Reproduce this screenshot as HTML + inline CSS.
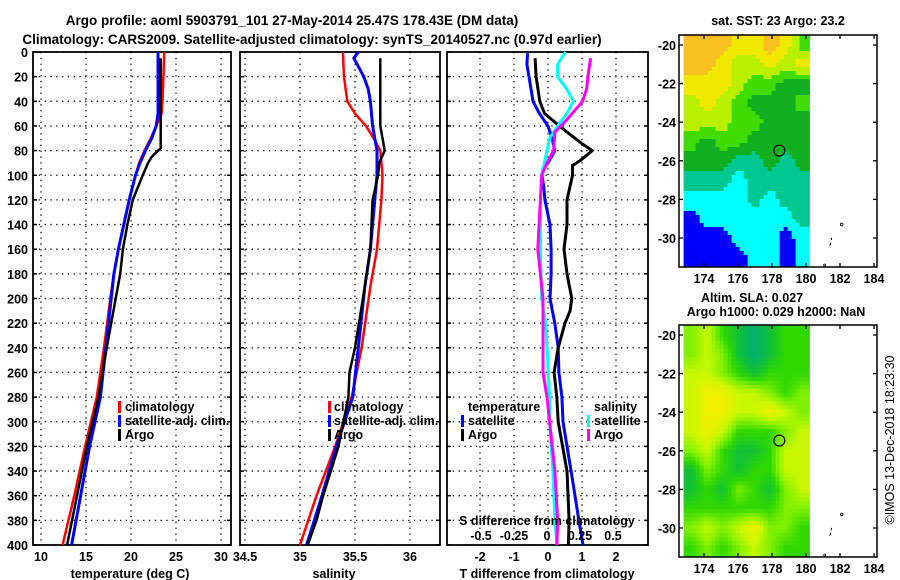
<!DOCTYPE html>
<html><head><meta charset="utf-8">
<style>
html,body{margin:0;padding:0;background:#fff;}
svg{display:block;font-family:"Liberation Sans",sans-serif;font-weight:bold;}
text{font-size:12.5px;fill:#000;}
</style></head>
<body>
<svg id="fig" width="900" height="580" viewBox="0 0 900 580" xmlns="http://www.w3.org/2000/svg">
<text x="292" y="25" text-anchor="middle" style="font-size:13.5px">Argo profile: aoml 5903791_101 27-May-2014 25.47S 178.43E (DM data)</text>
<text x="312" y="44" text-anchor="middle" style="font-size:13.5px">Climatology: CARS2009. Satellite-adjusted climatology: synTS_20140527.nc (0.97d earlier)</text>
<g id="layer"></g>
</svg>
<script>
// ---- data ----
const depthTicks=[0,20,40,60,80,100,120,140,160,180,200,220,240,260,280,300,320,340,360,380,400];
const tempTicks=[10,15,20,25,30];
const salTicks=[34.5,35,35.5,36];
const tdiffTicks=[-2,-1,0,1,2];
const sdiffTicks=[-0.5,-0.25,0,0.25,0.5];
const tClimDepth=[0,20,40,50,60,70,80,90,100,120,140,160,180,200,240,280,320,360,400];
const tClimVal=[23.7,23.6,23.5,23.4,22.8,22.2,21.5,20.9,20.5,19.8,19.2,18.6,18.1,17.7,17.0,16.2,14.9,13.7,12.4];
const tSatDepth=[0,20,40,50,60,70,80,90,100,120,140,160,180,200,240,280,320,360,400];
const tSatVal=[23.0,23.0,23.0,23.0,22.8,22.3,21.6,21.0,20.5,19.8,19.2,18.6,18.1,17.8,17.2,16.6,15.4,14.4,13.4];
const tArgoDepth=[5,20,40,60,78,85,90,100,120,140,160,180,200,240,280,320,360,400];
const tArgoVal=[23.3,23.3,23.3,23.3,23.3,22.3,21.9,21.3,20.2,19.6,19.1,18.8,18.3,17.3,16.4,15.1,14.0,12.9];
const sClimDepth=[0,20,40,50,60,70,80,100,120,160,190,240,280,320,360,400];
const sClimVal=[35.39,35.40,35.43,35.50,35.60,35.67,35.73,35.75,35.74,35.70,35.64,35.56,35.47,35.32,35.15,35.0];
const sSatDepth=[0,5,20,30,40,60,80,100,120,160,190,240,280,320,360,400];
const sSatVal=[35.53,35.49,35.58,35.62,35.64,35.66,35.70,35.70,35.68,35.64,35.59,35.53,35.48,35.33,35.2,35.06];
const sArgoDepth=[5,60,75,80,90,100,120,160,190,240,260,280,320,360,380,400];
const sArgoVal=[35.73,35.73,35.76,35.77,35.72,35.71,35.66,35.64,35.59,35.50,35.45,35.44,35.35,35.21,35.15,35.07];
const dTSatDepth=[1,10,20,30,40,50,60,70,80,90,95,100,110,120,140,160,180,200,220,240,260,280,300,340,380,400];
const dTSatVal=[-0.6,-0.62,-0.56,-0.5,-0.44,-0.25,0,0.12,0.2,0.0,-0.15,-0.18,-0.12,-0.09,0.06,0.09,0.09,0.06,0.2,0.3,0.32,0.41,0.44,0.68,0.91,1.03];
const dTArgoDepth=[5,20,40,50,55,65,75,80,88,92,100,120,140,160,180,200,210,220,240,260,280,300,340,380,400];
const dTArgoVal=[-0.38,-0.35,-0.24,-0.1,0.12,0.56,1.03,1.3,0.95,0.72,0.72,0.56,0.56,0.47,0.56,0.7,0.65,0.5,0.3,0.18,0.26,0.3,0.56,0.62,0.6];
const dSSatDepth=[0,10,20,30,40,50,60,70,80,100,120,160,200,220,240,260,280,300,340,380,400];
const dSSatVal=[0.14,0.08,0.08,0.15,0.2,0.15,0.08,0.02,0.0,-0.04,-0.05,-0.05,-0.04,-0.01,0.0,0.01,0.02,0.02,0.045,0.06,0.075];
const dSArgoDepth=[5,20,30,40,55,65,80,90,100,120,160,200,240,260,280,300,340,380,400];
const dSArgoVal=[0.33,0.31,0.3,0.27,0.15,0.06,0.05,0.0,-0.04,-0.05,-0.07,-0.03,-0.03,-0.03,0.0,0.02,0.06,0.08,0.075];
const latTicks=[-20,-22,-24,-26,-28,-30];
const lonTicks=[174,176,178,180,182,184];
const sstRows=["77766764","77655656","66654433","56543334","55544333","43443333","33322323","22212222","11112122","01111112","00011101","00001101"];
const slaRows=["34210122","34310122","44321222","45544323","45544543","45422234","34211244","13212244","12132134","22222233","34345332","23234322"];
const sstColors=["#0000ff","#00ffff","#00c890","#10b020","#40dc00","#b8f000","#f0e800","#f8c020"];
const slaColors=["#00b070","#10c038","#30d800","#80f000","#c8f800","#f0f000"];
const argoLon=178.43, argoLat=-25.47;

// ---- helpers ----
const NS="http://www.w3.org/2000/svg";
const layer=document.getElementById('layer');
function mk(tag,attrs,parent){const e=document.createElementNS(NS,tag);for(const k in attrs)e.setAttribute(k,attrs[k]);(parent||layer).appendChild(e);return e;}
const Y0=52,Y1=545;
const yD=d=>Y0+(Y1-Y0)*d/400;
const xT=v=>41+(v-10)*9;
const xS=v=>245+(v-34.5)*110;
const xDT=v=>548+v*34;
const xDS=v=>547+v*132;

function panel(name,x0,x1,xticks,xf,labels){
  const g=mk('g',{});
  
  
  depthTicks.forEach(d=>{
    const l=mk('line',{x1:x0,x2:x1,y1:yD(d),y2:yD(d),stroke:'#000','stroke-width':1.3,'stroke-dasharray':'1.3 4.5'},g);
    
    
    mk('line',{x1:x0,x2:x0+4,y1:yD(d),y2:yD(d),stroke:'#000','stroke-width':1.5},g);
    mk('line',{x1:x1-4,x2:x1,y1:yD(d),y2:yD(d),stroke:'#000','stroke-width':1.5},g);
  });
  xticks.forEach(v=>{
    const l=mk('line',{x1:xf(v),x2:xf(v),y1:Y0,y2:Y1,stroke:'#000','stroke-width':1.3,'stroke-dasharray':'1.3 4.5'},g);
    
    
    if(labels){
      const t=mk('text',{x:xf(v),y:561,'text-anchor':'middle'},g);
      t.textContent=String(v);
      
      
    }
  });
  const r=mk('rect',{x:x0,y:Y0,width:x1-x0,height:Y1-Y0,fill:'none',stroke:'#000','stroke-width':1.8},g);
  
  
  return g;
}
function line(g,name,ds,vs,xf,color,w){
  const p=ds.map((d,i)=>xf(vs[i]).toFixed(1)+','+yD(d).toFixed(1)).join(' ');
  const e=mk('polyline',{points:p,fill:'none',stroke:color,'stroke-width':w,'stroke-linejoin':'miter'},g);
  
  
}
function txt(g,name,x,y,s,anchor,size){
  const t=mk('text',{x:x,y:y,'text-anchor':anchor||'start'},g);
  if(size)t.style.fontSize=size+'px';
  t.textContent=s;
  
  
  return t;
}
function legendMark(g,x,y,color){
  const m=mk('rect',{x:x,y:y-10,width:3,height:12,fill:color},g);
  
  
}

depthTicks.forEach(d=>{ txt(layer,'depth-tick-label',28,yD(d)+5,String(d),'end'); });

const p1=panel('temperature-panel',33,231,tempTicks,xT,true);
line(p1,'temp-climatology-line',tClimDepth,tClimVal,xT,'#ff0000',2.5);
line(p1,'temp-satellite-line',tSatDepth,tSatVal,xT,'#0000ff',3);
line(p1,'temp-argo-line',tArgoDepth,tArgoVal,xT,'#000',2.5);
txt(p1,'temp-x-axis-title',130,578,'temperature (deg C)','middle');
[['climatology','#ff0000'],['satellite-adj. clim.','#0000ff'],['Argo','#000']].forEach((e,i)=>{
  legendMark(p1,118,411+i*14,e[1]);txt(p1,'legend-entry',125,411+i*14,e[0]);
});

const p2=panel('salinity-panel',240,440,salTicks,xS,true);
line(p2,'sal-climatology-line',sClimDepth,sClimVal,xS,'#ff0000',2.5);
line(p2,'sal-satellite-line',sSatDepth,sSatVal,xS,'#0000ff',3);
line(p2,'sal-argo-line',sArgoDepth,sArgoVal,xS,'#000',2.5);
txt(p2,'sal-x-axis-title',334,578,'salinity','middle');
[['climatology','#ff0000'],['satellite-adj. clim.','#0000ff'],['Argo','#000']].forEach((e,i)=>{
  legendMark(p2,328,411+i*14,e[1]);txt(p2,'legend-entry',334,411+i*14,e[0]);
});

const p3=panel('difference-panel',447,648,tdiffTicks,xDT,true);
line(p3,'tdiff-satellite-line',dTSatDepth,dTSatVal,xDT,'#0000ff',3);
line(p3,'tdiff-argo-line',dTArgoDepth,dTArgoVal,xDT,'#000',3);
line(p3,'sdiff-satellite-line',dSSatDepth,dSSatVal,xDS,'#00ffff',3);
line(p3,'sdiff-argo-line',dSArgoDepth,dSArgoVal,xDS,'#ff00ff',3);
txt(p3,'tdiff-x-axis-title',547,578,'T difference from climatology','middle');
txt(p3,'sdiff-axis-title',547,525,'S difference from climatology','middle');
sdiffTicks.forEach(v=>txt(p3,'sdiff-tick-label',xDS(v),540,String(v),'middle'));
txt(p3,'legend-heading-temperature',468,411,'temperature');
legendMark(p3,461,425,'#0000ff');txt(p3,'legend-entry',468,425,'satellite');
legendMark(p3,461,439,'#000');txt(p3,'legend-entry',468,439,'Argo');
txt(p3,'legend-heading-salinity',594,411,'salinity');
legendMark(p3,587,425,'#00ffff');txt(p3,'legend-entry',594,425,'satellite');
legendMark(p3,587,439,'#ff00ff');txt(p3,'legend-entry',594,439,'Argo');

function hexToRgb(h){return [parseInt(h.substr(1,2),16),parseInt(h.substr(3,2),16),parseInt(h.substr(5,2),16)];}
function sampleGrid(rows,fr,fc){
  const R=rows.length,C=rows[0].length;
  const r=Math.min(Math.max(fr,0),R-1),c=Math.min(Math.max(fc,0),C-1);
  const r0=Math.floor(r),c0=Math.floor(c),r1=Math.min(r0+1,R-1),c1=Math.min(c0+1,C-1);
  const a=r-r0,b=c-c0;
  const v=(i,j)=>+rows[i][j];
  return v(r0,c0)*(1-a)*(1-b)+v(r0,c1)*(1-a)*b+v(r1,c0)*a*(1-b)+v(r1,c1)*a*b;
}
function map(name,top,rows,colors,titles,smooth){
  const g=mk('g',{});
  
  
  const bx0=679,bx1=877,by0=top,by1=top+232;
  const xL=lon=>704+(lon-174)*17;
  const yL=lat=>by0+10+(-20-lat)*19.3;
  const mx0=xL(172.8),mx1=xL(180.2);
  const step=4;
  const cols=rows[0].length;
  for(let y=by0;y<by1;y+=step){
    for(let x=mx0;x<mx1;x+=step){
      const lon=172.8+(x+step/2-mx0)/17, lat=-20-((y+step/2)-by0-10)/19.3;
      const fc=(lon-172.8)/(7.4/cols)-0.5, fr=(-19.5-lat)-0.5;
      let v=sampleGrid(rows,fr,fc);
      let col;
      if(smooth){
        const i=Math.min(Math.floor(v),colors.length-2),f=v-i;
        const A=hexToRgb(colors[i]),B=hexToRgb(colors[i+1]);
        col='rgb('+A.map((q,k)=>Math.round(q+(B[k]-q)*f)).join(',')+')';
      } else {
        col=colors[Math.round(v)];
      }
      const w=Math.min(step,mx1-x)+0.5,h=Math.min(step,by1-y)+0.5;
      const cell=mk('rect',{x:x.toFixed(1),y:y,width:w.toFixed(1),height:h,fill:col},g);
      
      
    }
  }
  const frame=mk('rect',{x:bx0,y:by0,width:bx1-bx0,height:by1-by0,fill:'none',stroke:'#000','stroke-width':1.5},g);
  
  
  latTicks.forEach(l=>{
    mk('line',{x1:bx0,x2:bx0+4,y1:yL(l),y2:yL(l),stroke:'#000','stroke-width':1.3},g);
    mk('line',{x1:bx1-4,x2:bx1,y1:yL(l),y2:yL(l),stroke:'#000','stroke-width':1.3},g);
    txt(g,'map-lat-label',676,yL(l)+5,String(l),'end');
  });
  lonTicks.forEach(l=>{
    mk('line',{x1:xL(l),x2:xL(l),y1:by1-4,y2:by1,stroke:'#000','stroke-width':1.3},g);
    mk('line',{x1:xL(l),x2:xL(l),y1:by0,y2:by0+4,stroke:'#000','stroke-width':1.3},g);
    txt(g,'map-lon-label',xL(l),by1+16,String(l),'middle');
  });
  const c=mk('circle',{cx:xL(argoLon),cy:yL(argoLat),r:5.5,fill:'none',stroke:'#000','stroke-width':1.2},g);
  
  
  mk('circle',{cx:xL(182.1),cy:yL(-29.3),r:1.3,fill:'none',stroke:'#000','stroke-width':0.8},g);
  mk('path',{d:`M${xL(181.4)} ${yL(-30.4)} l1 -3 M${xL(181.5)} ${yL(-30.1)} l0 -2`,stroke:'#000','stroke-width':1},g);
  mk('circle',{cx:xL(181.1),cy:yL(-31.4),r:1,fill:'none',stroke:'#000','stroke-width':0.8},g);
  titles.forEach(t=>txt(g,'map-title',t[1],t[2],t[0],'middle'));
}
map('sst-map',35,sstRows,sstColors,[['sat. SST: 23 Argo: 23.2',778,25]],false);
map('sla-map',325,slaRows,slaColors,[['Altim. SLA: 0.027',752,302],['Argo h1000: 0.029 h2000: NaN',776,316]],true);

const cr=txt(layer,'copyright-note',0,0,'©IMOS 13-Dec-2018 18:23:30','middle');
cr.setAttribute('transform','translate(894,440) rotate(-90)');
cr.style.fontWeight='normal';
cr.style.fontSize='12.5px';
</script>
</body></html>
